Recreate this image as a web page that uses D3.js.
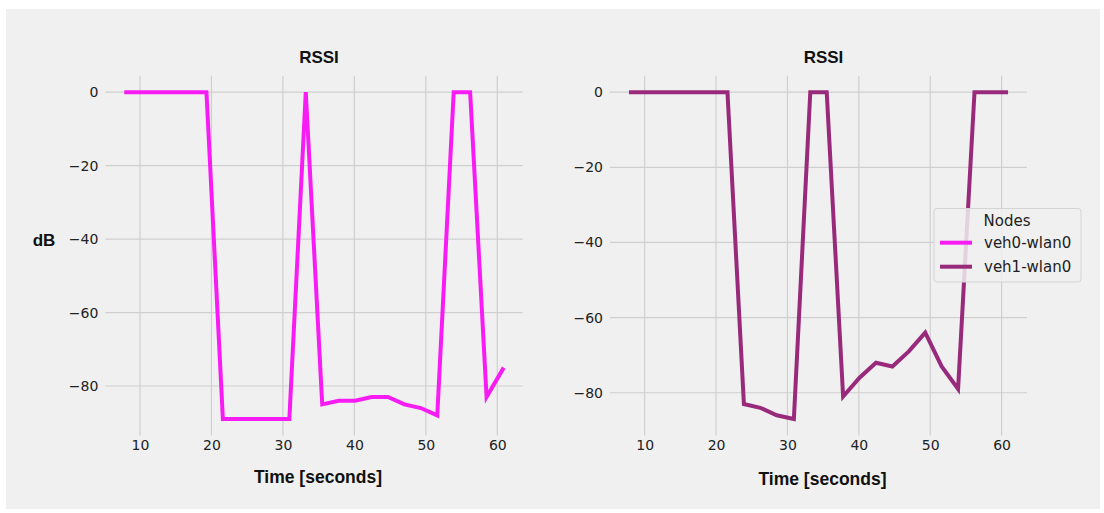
<!DOCTYPE html>
<html>
<head>
<meta charset="utf-8">
<script src="https://cdn.jsdelivr.net/npm/d3@7"></script>
<style>
  html, body { margin: 0; padding: 0; background: #ffffff; }
  svg { display: block; }
</style>
</head>
<body>
<svg id="chart" width="1104" height="513"></svg>
<script>
// ---- data ----
const times = [7.8, 10.1, 12.4, 14.7, 17.0, 19.3, 21.6, 23.9, 26.2, 28.5, 30.9, 33.2,
               35.5, 37.8, 40.1, 42.4, 44.7, 47.0, 49.3, 51.6, 53.9, 56.2, 58.5, 60.9];
const veh0 = [0, 0, 0, 0, 0, 0, -89, -89, -89, -89, -89, 0,
              -85, -84, -84, -83, -83, -85, -86, -88, 0, 0, -83, -75];
const veh1 = [0, 0, 0, 0, 0, 0, 0, -83, -84, -86, -87, 0,
              0, -81, -76, -72, -73, -69, -64, -73, -79, 0, 0, 0];
const seriesNames = ["veh0-wlan0", "veh1-wlan0"];
const seriesColors = ["#f81cf4", "#992a7b"];
const xTicks = [10, 20, 30, 40, 50, 60];
const yTicks = [0, -20, -40, -60, -80];
const titleText = "RSSI";
const xLabel = "Time [seconds]";
const yLabel = "dB";
const legendTitle = "Nodes";

(function () {
const svg = d3.select("#chart");
svg.append("rect").attr("x", 6).attr("y", 9).attr("width", 1094).attr("height", 500)
  .attr("fill", "#f0f0f0");

const panels = [
  { values: veh0, color: seriesColors[0], left: 105.3, right: 522.7, showY: true, xLabDy: 0 },
  { values: veh1, color: seriesColors[1], left: 610, right: 1027, showY: false, xLabDy: 2 }
];
const axTop = 75.8, axBottom = 435.4;

function padded(ext) {
  const d = (ext[1] - ext[0]) * 0.05;
  return [ext[0] - d, ext[1] + d];
}

panels.forEach((p, i) => {
  const x = d3.scaleLinear().domain(padded(d3.extent(times))).range([p.left, p.right]);
  const y = d3.scaleLinear().domain(padded(d3.extent(p.values))).range([axBottom, axTop]);
  const g = svg.append("g");

  // grid
  g.append("g").selectAll("line").data(xTicks).join("line")
    .attr("x1", d => x(d)).attr("x2", d => x(d)).attr("y1", axTop).attr("y2", axBottom)
    .attr("stroke", "#cfcfcf").attr("stroke-width", 1.2);
  g.append("g").selectAll("line").data(yTicks).join("line")
    .attr("y1", d => y(d)).attr("y2", d => y(d)).attr("x1", p.left).attr("x2", p.right)
    .attr("stroke", "#cfcfcf").attr("stroke-width", 1.2);

  // axes via d3 axis (no domain / tick lines, only labels)
  const xAxis = g.append("g").attr("transform", `translate(0,${axBottom})`)
    .call(d3.axisBottom(x).tickValues(xTicks).tickSize(0).tickPadding(5).tickFormat(d3.format("d")));
  xAxis.select(".domain").remove();
  xAxis.selectAll("text").attr("font-family", "DejaVu Sans").attr("font-size", 14).attr("fill", "#222");

  const yAxis = g.append("g").attr("transform", `translate(${p.left},0)`)
    .call(d3.axisLeft(y).tickValues(yTicks).tickSize(0).tickPadding(7).tickFormat(d3.format("d")));
  yAxis.select(".domain").remove();
  yAxis.selectAll("text").attr("font-family", "DejaVu Sans").attr("font-size", 14).attr("fill", "#222");

  // line
  const line = d3.line().x((d, k) => x(times[k])).y(d => y(d));
  g.append("path").datum(p.values).attr("d", line)
    .attr("fill", "none").attr("stroke", p.color).attr("stroke-width", 4)
    .attr("stroke-linejoin", "miter").attr("stroke-linecap", "butt");

  // title & labels
  const cx = (p.left + p.right) / 2 + 5;
  g.append("text").attr("x", cx).attr("y", 63).attr("text-anchor", "middle")
    .attr("font-family", "Liberation Sans").attr("font-weight", "bold").attr("font-size", 17)
    .attr("fill", "#111").text(titleText);
  g.append("text").attr("x", cx - 1).attr("y", 483 + p.xLabDy).attr("text-anchor", "middle")
    .attr("font-family", "Liberation Sans").attr("font-weight", "bold").attr("font-size", 17.5)
    .attr("fill", "#111").text(xLabel);
  if (p.showY) {
    g.append("text").attr("x", 44).attr("y", 246).attr("text-anchor", "middle")
      .attr("font-family", "Liberation Sans").attr("font-weight", "bold").attr("font-size", 17)
      .attr("fill", "#111").text(yLabel);
  }
});

// legend
const lg = svg.append("g");
lg.append("rect").attr("x", 934).attr("y", 208.5).attr("width", 147).attr("height", 73.5)
  .attr("rx", 3).attr("fill", "#f0f0f0").attr("fill-opacity", 0.85)
  .attr("stroke", "#d4d4d4").attr("stroke-width", 1);
lg.append("text").attr("x", 1007).attr("y", 226).attr("text-anchor", "middle")
  .attr("font-family", "DejaVu Sans").attr("font-size", 15).attr("fill", "#222").text(legendTitle);
seriesNames.forEach((n, i) => {
  const yy = 242.7 + i * 24;
  lg.append("line").attr("x1", 940).attr("x2", 972).attr("y1", yy).attr("y2", yy)
    .attr("stroke", seriesColors[i]).attr("stroke-width", 4);
  lg.append("text").attr("x", 984).attr("y", yy + 5.5)
    .attr("font-family", "DejaVu Sans").attr("font-size", 15).attr("fill", "#222").text(n);
});
})();
</script>
</body>
</html>
